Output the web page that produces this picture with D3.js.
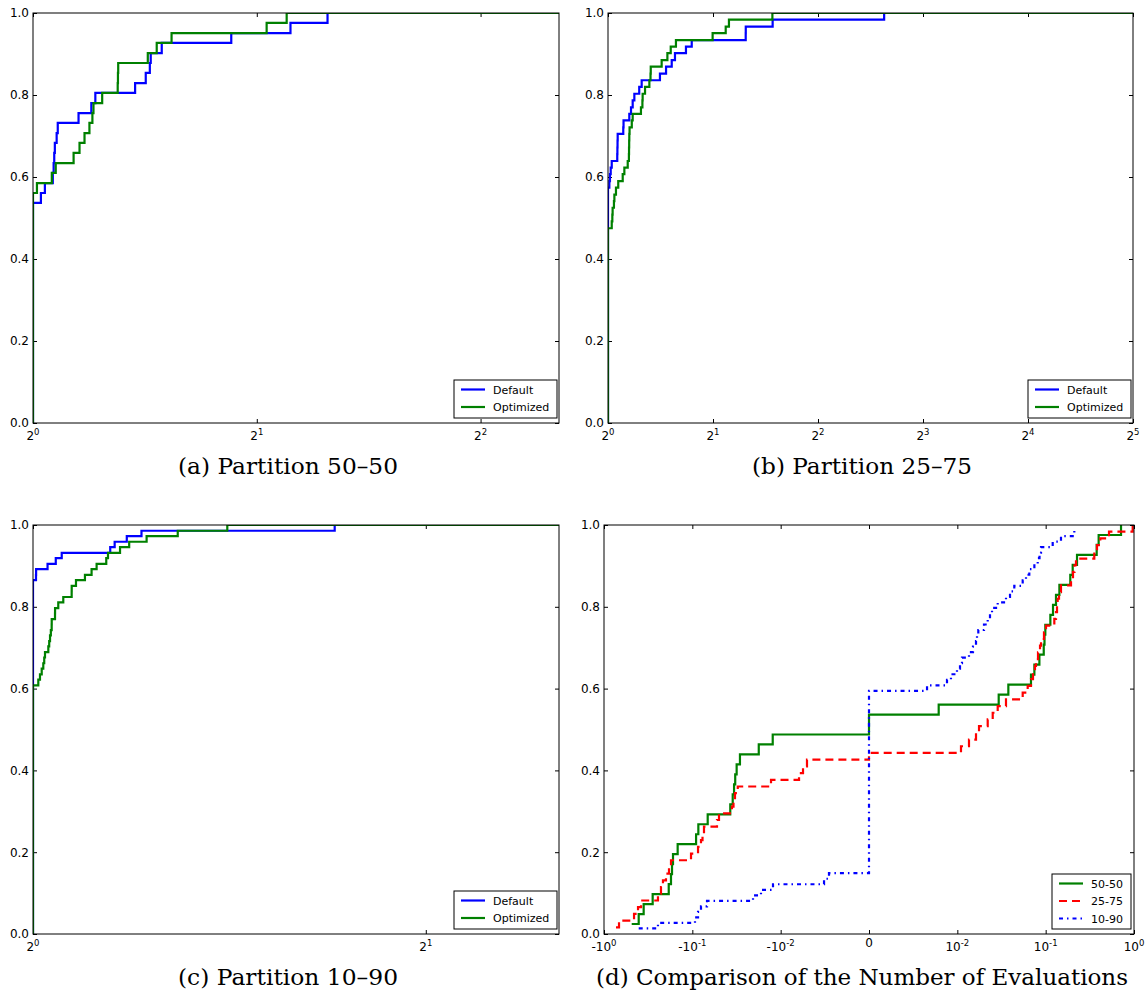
<!DOCTYPE html>
<html><head><meta charset="utf-8">
<script src="https://cdn.jsdelivr.net/npm/d3@7"></script>
<style>body{margin:0;background:#fff}svg{display:block}</style>
</head><body>
<svg id="c" width="1147" height="996"></svg>
<script>
// ---------------- DATA ----------------
const yTicks = [0, 0.2, 0.4, 0.6, 0.8, 1.0];
const yTickLabels = ["0.0", "0.2", "0.4", "0.6", "0.8", "1.0"];

// (a) Partition 50-50 : ECDF steps (x, cumulative fraction)
const aDefaultX = [1, 1.0248, 1.0375, 1.0633, 1.066, 1.068, 1.070, 1.076, 1.0797, 1.1515, 1.198, 1.213, 1.372, 1.418, 1.436, 1.440, 1.490, 1.848, 2.22, 2.49];
const aDefaultY = [0.537, 0.561, 0.585, 0.610, 0.634, 0.659, 0.683, 0.707, 0.732, 0.756, 0.780, 0.805, 0.829, 0.854, 0.878, 0.902, 0.927, 0.951, 0.976, 1.0];
const aOptX = [1, 1.0123, 1.060, 1.073, 1.134, 1.155, 1.173, 1.191, 1.202, 1.206, 1.239, 1.300, 1.301, 1.302, 1.427, 1.467, 1.536, 2.062, 2.194];
const aOptY = [0.561, 0.585, 0.610, 0.634, 0.659, 0.683, 0.707, 0.732, 0.756, 0.780, 0.805, 0.829, 0.854, 0.878, 0.902, 0.927, 0.951, 0.976, 1.0];
const aXDomain = [1, 5.1];
const aXTicks = [1, 2, 4];
const aXTickExp = ["0", "1", "2"];

// (b) Partition 25-75
const bDefaultX = [1, 1.009, 1.013, 1.018, 1.025, 1.063, 1.064, 1.065, 1.066, 1.106, 1.108, 1.151, 1.164, 1.177, 1.190, 1.229, 1.249, 1.409, 1.467, 1.523, 1.556, 1.673, 1.738, 2.482, 2.483, 2.965, 6.19];
const bDefaultY = [0.574, 0.590, 0.607, 0.623, 0.639, 0.656, 0.672, 0.689, 0.705, 0.721, 0.738, 0.754, 0.770, 0.787, 0.803, 0.820, 0.836, 0.852, 0.869, 0.885, 0.902, 0.918, 0.934, 0.951, 0.967, 0.984, 1.0];
const bOptX = [1, 1.025, 1.029, 1.031, 1.040, 1.043, 1.054, 1.070, 1.102, 1.114, 1.139, 1.148, 1.149, 1.150, 1.151, 1.153, 1.170, 1.177, 1.243, 1.255, 1.257, 1.277, 1.314, 1.324, 1.326, 1.425, 1.480, 1.513, 1.566, 1.995, 2.175, 2.222, 2.96];
const bOptY = [0.475, 0.492, 0.508, 0.525, 0.541, 0.557, 0.574, 0.590, 0.607, 0.623, 0.639, 0.656, 0.672, 0.689, 0.705, 0.721, 0.738, 0.754, 0.770, 0.787, 0.803, 0.820, 0.836, 0.852, 0.869, 0.885, 0.902, 0.918, 0.934, 0.951, 0.967, 0.984, 1.0];
const bXDomain = [1, 32];
const bXTicks = [1, 2, 4, 8, 16, 32];
const bXTickExp = ["0", "1", "2", "3", "4", "5"];

// (c) Partition 10-90
const cDefaultX = [1, 1.0053, 1.0055, 1.026, 1.041, 1.052, 1.146, 1.155, 1.18, 1.211, 1.703];
const cDefaultY = [0.865, 0.878, 0.892, 0.905, 0.919, 0.932, 0.946, 0.959, 0.973, 0.986, 1.0];
const cOptX = [1, 1.0094, 1.0124, 1.0155, 1.0183, 1.0200, 1.0214, 1.0274, 1.0290, 1.0305, 1.0320, 1.0335, 1.0336, 1.0396, 1.0397, 1.0456, 1.0549, 1.0706, 1.0707, 1.0788, 1.096, 1.1089, 1.1188, 1.138, 1.1415, 1.166, 1.185, 1.222, 1.291, 1.409];
const cOptY = [0.608, 0.622, 0.635, 0.649, 0.662, 0.676, 0.689, 0.703, 0.716, 0.730, 0.743, 0.757, 0.770, 0.784, 0.797, 0.811, 0.824, 0.838, 0.851, 0.865, 0.878, 0.892, 0.905, 0.919, 0.932, 0.946, 0.959, 0.973, 0.986, 1.0];
const cXDomain = [1, 2.53];
const cXTicks = [1, 2];
const cXTickExp = ["0", "1"];

// (d) Comparison of the Number of Evaluations : sorted samples per partition
const d5050 = [-0.4858, -0.4047, -0.3556, -0.2812, -0.185, -0.1744, -0.1698, -0.1655, -0.1466, -0.0907, -0.0855, -0.0670, -0.0372, -0.0349, -0.0337, -0.0327, -0.0315, -0.0289, -0.0177, -0.0123, 0, 0, 0.00789, 0.0294, 0.0378, 0.0682, 0.0745, 0.0849, 0.0951, 0.0970, 0.0991, 0.113, 0.1211, 0.1309, 0.143, 0.19, 0.2023, 0.2264, 0.378, 0.398, 0.713];
const d2575 = [-0.731, -0.676, -0.457, -0.412, -0.381, -0.245, -0.2264, -0.215, -0.1987, -0.1837, -0.1744, -0.1035, -0.0862, -0.0798, -0.0767, -0.0738, -0.0526, -0.0499, -0.0356, -0.0342, -0.0329, -0.0306, -0.01286, -0.00792, -0.00747, -0.00702, 0, 0.0110, 0.01355, 0.01627, 0.0176, 0.02207, 0.02515, 0.02864, 0.03555, 0.05495, 0.06259, 0.06823, 0.07189, 0.0757, 0.0777, 0.0819, 0.0863, 0.0886, 0.0957, 0.1009, 0.1253, 0.1309, 0.1344, 0.1368, 0.1416, 0.1491, 0.1936, 0.2039, 0.2121, 0.2205, 0.3553, 0.3812, 0.4155, 0.5212, 0.9667];
const d1090 = [-0.4047, -0.245, -0.0933, -0.0862, -0.0798, -0.0682, -0.02056, -0.01670, -0.01221, -0.00509, -0.00453,
  0, 0, 0, 0, 0, 0, 0, 0, 0, 0, 0, 0, 0, 0, 0, 0, 0, 0, 0, 0, 0, 0, 0, 0, 0, 0, 0, 0, 0, 0, 0, 0, 0,
  0.00657, 0.00883, 0.00928, 0.00996, 0.01072, 0.01129, 0.01355, 0.01504, 0.01627, 0.01670, 0.01728, 0.02004, 0.02207, 0.02343, 0.02470, 0.02864, 0.03555, 0.03947, 0.04415, 0.05495, 0.05990, 0.06527, 0.0745, 0.08125, 0.0852, 0.0886, 0.1201, 0.1491, 0.2110];
const dSampleCounts = [41, 61, 74];
const dSeriesNames = ["50-50", "25-75", "10-90"];
const dXTicks = [-1, -0.1, -0.01, 0, 0.01, 0.1, 1];
const dXTickBase = ["-10", "-10", "-10", "0", "10", "10", "10"];
const dXTickExp = ["0", "-1", "-2", "", "-2", "-1", "0"];
const dLinThresh = 0.01;

const legendNames = ["Default", "Optimized"];
const captions = ["(a) Partition 50\u201350", "(b) Partition 25\u201375", "(c) Partition 10\u201390", "(d) Comparison of the Number of Evaluations"];

// ---------------- DRAWING ----------------
const BLUE = "#0000ff", GREEN = "#008000", RED = "#ff0000";
const svg = d3.select("#c");
const SANS = "DejaVu Sans, sans-serif";
const SERIF = "DejaVu Serif, serif";
let clipN = 0;

const panels = [
  {x0: 33, x1: 559, y0: 13, y1: 423},
  {x0: 608, x1: 1133, y0: 13, y1: 423},
  {x0: 33, x1: 559, y0: 525, y1: 934},
  {x0: 604, x1: 1134, y0: 525, y1: 934}
];

function makeAxes(p, xs, xTicks, xBase, xExp) {
  const ys = d3.scaleLinear().domain([0, 1]).range([p.y1, p.y0]);
  const T = 4;
  const style = g => { g.select(".domain").remove(); g.selectAll("line").attr("stroke", "#000").attr("stroke-width", 1); };
  svg.append("g").attr("transform", `translate(0,${p.y1})`)
    .call(d3.axisBottom(xs).tickValues(xTicks).tickSizeInner(-T).tickSizeOuter(0).tickFormat(() => "")).call(style);
  svg.append("g").attr("transform", `translate(0,${p.y0})`)
    .call(d3.axisTop(xs).tickValues(xTicks).tickSizeInner(-T).tickSizeOuter(0).tickFormat(() => "")).call(style);
  svg.append("g").attr("transform", `translate(${p.x0},0)`)
    .call(d3.axisLeft(ys).tickValues(yTicks).tickSizeInner(-T).tickSizeOuter(0).tickPadding(4).tickFormat((d, i) => yTickLabels[i]))
    .call(style)
    .call(g => g.selectAll("text").attr("font-family", SANS).attr("font-size", 12).attr("fill", "#000"));
  svg.append("g").attr("transform", `translate(${p.x1},0)`)
    .call(d3.axisRight(ys).tickValues(yTicks).tickSizeInner(-T).tickSizeOuter(0).tickFormat(() => "")).call(style);
  // x tick labels with superscripts
  const lab = svg.append("g").attr("font-family", SANS).attr("font-size", 12).attr("fill", "#000");
  xTicks.forEach((v, i) => {
    const t = lab.append("text").attr("x", xs(v)).attr("text-anchor", "middle");
    if (xExp[i] === "") {
      t.attr("y", p.y1 + 13).text(xBase[i]);
    } else {
      t.attr("y", p.y1 + 17);
      t.append("tspan").text(xBase[i]);
      t.append("tspan").attr("font-size", 8.5).attr("dy", -5).text(xExp[i]);
    }
  });
  const id = "clip" + (clipN++);
  svg.append("clipPath").attr("id", id).append("rect")
    .attr("x", p.x0).attr("y", p.y0).attr("width", p.x1 - p.x0).attr("height", p.y1 - p.y0);
  return {ys, clip: `url(#${id})`};
}

function frame(p) {
  svg.append("rect").attr("x", p.x0).attr("y", p.y0).attr("width", p.x1 - p.x0).attr("height", p.y1 - p.y0)
    .attr("fill", "none").attr("stroke", "#000").attr("stroke-width", 1);
}

function drawSteps(pts, xs, ys, clip, color, dash) {
  const line = d3.line().x(d => xs(d[0])).y(d => ys(d[1])).curve(d3.curveStepAfter);
  svg.append("path").datum(pts).attr("d", line).attr("fill", "none")
    .attr("stroke", color).attr("stroke-width", 2.2).attr("clip-path", clip)
    .attr("stroke-dasharray", dash || null);
}

function legend(x, y, w, h, items) {
  const g = svg.append("g");
  g.append("rect").attr("x", x).attr("y", y).attr("width", w).attr("height", h)
    .attr("fill", "#fff").attr("stroke", "#000").attr("stroke-width", 1);
  items.forEach((it, i) => {
    const cy = y + 9.5 + i * 17.5;
    g.append("line").attr("x1", x + 7).attr("x2", x + 31).attr("y1", cy).attr("y2", cy)
      .attr("stroke", it.color).attr("stroke-width", 2.2).attr("stroke-dasharray", it.dash || null);
    g.append("text").attr("x", x + 39).attr("y", cy + 4).attr("font-family", SANS).attr("font-size", 11).text(it.name);
  });
}

function caption(text, cx, y, len) {
  svg.append("text").attr("x", cx).attr("y", y).attr("text-anchor", "middle")
    .attr("font-family", SERIF).attr("font-size", 22).attr("textLength", len).attr("lengthAdjust", "spacingAndGlyphs").text(text);
}

function zip(xa, ya) { return xa.map((x, i) => [x, ya[i]]); }

// Panels a, b, c (log base 2)
const abc = [
  {p: panels[0], dom: aXDomain, ticks: aXTicks, exp: aXTickExp, def: zip(aDefaultX, aDefaultY), opt: zip(aOptX, aOptY)},
  {p: panels[1], dom: bXDomain, ticks: bXTicks, exp: bXTickExp, def: zip(bDefaultX, bDefaultY), opt: zip(bOptX, bOptY)},
  {p: panels[2], dom: cXDomain, ticks: cXTicks, exp: cXTickExp, def: zip(cDefaultX, cDefaultY), opt: zip(cOptX, cOptY)}
];
abc.forEach(c => {
  const xs = d3.scaleLog().base(2).domain(c.dom).range([c.p.x0, c.p.x1]);
  const {ys, clip} = makeAxes(c.p, xs, c.ticks, c.ticks.map(() => "2"), c.exp);
  const ext = pts => [[c.dom[0], 0], ...pts, [c.dom[1], pts[pts.length - 1][1]]];
  drawSteps(ext(c.def), xs, ys, clip, BLUE);
  drawSteps(ext(c.opt), xs, ys, clip, GREEN);
  frame(c.p);
  legend(c.p.x1 - 105, c.p.y1 - 43, 103, 38, [
    {name: legendNames[0], color: BLUE}, {name: legendNames[1], color: GREEN}]);
});

// Panel d (symmetric log, linear between -0.01 and 0.01)
{
  const p = panels[3];
  const symT = v => { const a = Math.abs(v); return a <= dLinThresh ? v / dLinThresh : Math.sign(v) * (1 + Math.log10(a / dLinThresh)); };
  const lin = d3.scaleLinear().domain([symT(-1), symT(1)]).range([p.x0, p.x1]);
  const xs = v => lin(symT(v));
  const {ys, clip} = makeAxes(p, lin, dXTicks.map(symT), dXTickBase, dXTickExp);
  const ecdf = (s, n) => s.map((v, i) => [v, (i + 1) / n]);
  const styles = [
    {color: GREEN, dash: null},
    {color: RED, dash: "8,5"},
    {color: BLUE, dash: "4,4,1.5,4"}
  ];
  [d5050, d2575, d1090].forEach((s, k) => drawSteps(ecdf(s, dSampleCounts[k]), xs, ys, clip, styles[k].color, styles[k].dash));
  frame(p);
  legend(p.x1 - 82, p.y1 - 60, 79, 55, dSeriesNames.map((n, k) => ({name: n, color: styles[k].color, dash: styles[k].dash})));
}

caption(captions[0], 288, 474, 220);
caption(captions[1], 862, 474, 220);
caption(captions[2], 288, 985, 220);
caption(captions[3], 862, 985, 532);
</script>
</body></html>
